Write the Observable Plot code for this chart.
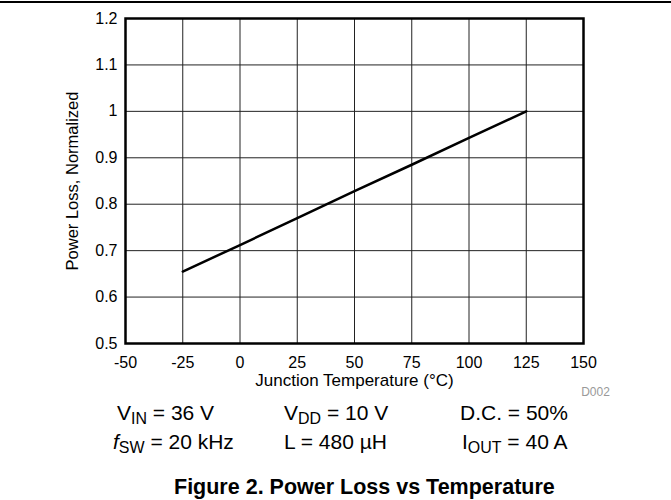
<!DOCTYPE html>
<html>
<head>
<meta charset="utf-8">
<script src="https://cdn.jsdelivr.net/npm/d3@7"></script>
<script src="https://cdn.jsdelivr.net/npm/@observablehq/plot@0.6"></script>
<style>
  html, body { margin: 0; padding: 0; background: #fff; }
  #wrap { position: relative; width: 671px; height: 500px; overflow: hidden; font-family: "Liberation Sans", Arial, sans-serif; color: #000; }
  #rule { position: absolute; left: 0; top: 1px; width: 671px; height: 2px; background: #000; }
  #chart { position: absolute; left: 0; top: 0; }
  .cond { position: absolute; font-size: 21px; line-height: 21px; white-space: nowrap; }
  .sub { font-size: 0.76em; position: relative; top: 0.28em; }
  #title { position: absolute; font-size: 21.5px; line-height: 22px; font-weight: bold; white-space: nowrap; }
</style>
</head>
<body>
<div id="wrap">
  <div id="rule"></div>
  <div id="chart"></div>
  <div class="cond" style="left:117px; top:402px;">V<span class="sub">IN</span> = 36 V</div>
  <div class="cond" style="left:284px; top:402px;">V<span class="sub">DD</span> = 10 V</div>
  <div class="cond" style="left:460px; top:402px;">D.C. = 50%</div>
  <div class="cond" style="left:113px; top:431px;"><i>f</i><span class="sub">SW</span> = 20 kHz</div>
  <div class="cond" style="left:284px; top:431px;">L = 480 µH</div>
  <div class="cond" style="left:462px; top:431px;">I<span class="sub">OUT</span> = 40 A</div>
  <div id="title" style="left:174px; top:476px;">Figure 2. Power Loss vs Temperature</div>
</div>
<script>
// Data
const temperature = [-25, 0, 25, 50, 75, 100, 125];
const powerLoss = [0.655, 0.712, 0.770, 0.828, 0.885, 0.943, 1.0];
const xTicks = [-50, -25, 0, 25, 50, 75, 100, 125, 150];
const yTicks = [0.5, 0.6, 0.7, 0.8, 0.9, 1, 1.1, 1.2];
const xLabel = "Junction Temperature (°C)";
const yLabel = "Power Loss, Normalized";
const figId = "D002";

const data = temperature.map((t, i) => ({t, v: powerLoss[i]}));

const chart = Plot.plot({
  width: 671,
  height: 400,
  marginLeft: 125,
  marginRight: 88,
  marginTop: 18,
  marginBottom: 57,
  style: {fontFamily: "Liberation Sans, Arial, sans-serif", fontSize: "16px", color: "#000", background: "transparent", overflow: "visible"},
  x: {domain: [-50, 150], ticks: xTicks, tickFormat: d => String(d), tickSize: 0, tickPadding: 13, label: null},
  y: {domain: [0.5, 1.2], ticks: yTicks, tickFormat: d => String(d), tickSize: 0, tickPadding: 8, label: null},
  marks: [
    Plot.ruleX(xTicks, {stroke: "#222", strokeWidth: 1}),
    Plot.ruleY(yTicks, {stroke: "#222", strokeWidth: 1}),
    Plot.line(data, {x: "t", y: "v", stroke: "#000", strokeWidth: 2.5}),
    Plot.frame({stroke: "#000", strokeWidth: 2.5}),
    Plot.text([xLabel], {text: d => d, frameAnchor: "bottom", textAnchor: "middle", dy: 42, fontSize: 17, fill: "#000"}),
    Plot.text([yLabel], {text: d => d, frameAnchor: "left", textAnchor: "middle", dx: -53, rotate: -90, fontSize: 16.5, fill: "#000"}),
    Plot.text([figId], {text: d => d, frameAnchor: "bottom-right", textAnchor: "middle", dx: 12, dy: 52, fontSize: 12, fill: "#999"})
  ]
});
document.getElementById("chart").appendChild(chart);
</script>
</body>
</html>
